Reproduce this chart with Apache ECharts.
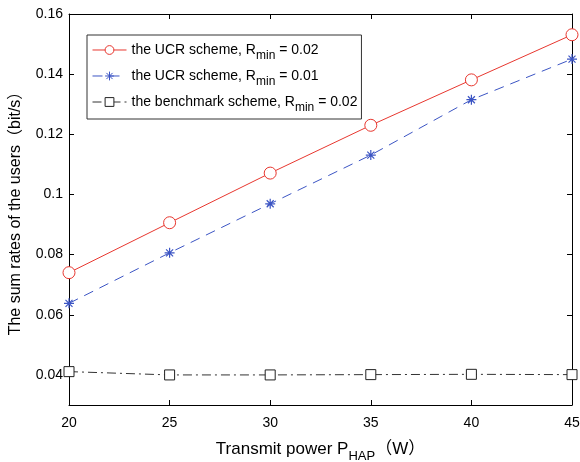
<!DOCTYPE html>
<html>
<head>
<meta charset="utf-8">
<script src="https://cdn.jsdelivr.net/npm/echarts@6/dist/echarts.min.js"></script>
<style>
  html, body { margin: 0; padding: 0; background: #fff; }
  #chart { width: 580px; height: 462px; }
</style>
</head>
<body>
<div id="chart"></div>
<script>
// transmit power (W)
var powers = [20, 25, 30, 35, 40, 45];
// sum rates (bit/s)
var ucrR002 = [0.0740, 0.0906, 0.1071, 0.1230, 0.1381, 0.1531];
var ucrR001 = [0.0638, 0.0806, 0.0969, 0.1131, 0.1315, 0.1450];
var benchR002 = [0.0411, 0.0400, 0.0400, 0.0401, 0.0402, 0.0401];

var yTicks = [0.04, 0.06, 0.08, 0.1, 0.12, 0.14, 0.16];
var seriesNames = [
  'the UCR scheme, Rmin = 0.02',
  'the UCR scheme, Rmin = 0.01',
  'the benchmark scheme, Rmin = 0.02'
];

var FONT = '"Liberation Sans", Arial, "Noto Sans CJK SC", sans-serif';
// matlab style '*' marker
var asterisk = 'path://M0,-10L0,10M-10,0L10,0M-7,-7L7,7M-7,7L7,-7';

function pairs(ys) {
  return powers.map(function (x, i) { return [x, ys[i]] })
}

var axisCommon = {
  axisLine: { show: true, onZero: false, lineStyle: { color: '#000', width: 1 } },
  axisTick: { show: true, inside: true, length: 5, lineStyle: { color: '#000' } },
  splitLine: { show: false }
};

var chart = echarts.init(document.getElementById('chart'));
chart.setOption({
  animation: false,
  backgroundColor: '#fff',
  textStyle: { fontFamily: FONT },
  grid: { left: 69, right: 8, top: 14, bottom: 57, containLabel: false, outerBoundsMode: 'none' },
  legend: {
    orient: 'vertical',
    left: 87,
    top: 35,
    padding: [8, 4, 5, 5],
    itemGap: 7,
    itemWidth: 34,
    itemHeight: 11,
    backgroundColor: '#fff',
    borderColor: '#333',
    borderWidth: 1,
    lineStyle: { width: 1 },
    itemStyle: { borderWidth: 1 },
    data: seriesNames,
    formatter: function (name) {
      return name.replace('Rmin', 'R{sub|min}')
    },
    textStyle: {
      fontFamily: FONT,
      fontSize: 14,
      color: '#000',
      rich: {
        sub: { fontFamily: FONT, fontSize: 12, color: '#000', padding: [12, 0, 0, 0] }
      }
    }
  },
  xAxis: [
    Object.assign({}, axisCommon, {
      type: 'value', min: 20, max: 45, interval: 5,
      name: 'Transmit power P{sub|HAP}（W）',
      nameLocation: 'middle',
      nameGap: 31,
      nameTextStyle: {
        fontFamily: FONT, fontSize: 17, color: '#000',
        rich: { sub: { fontFamily: FONT, fontSize: 13, color: '#000', padding: [14, 0, 0, 0] } }
      },
      axisLabel: { fontSize: 14, color: '#000', margin: 11, fontFamily: FONT }
    }),
    Object.assign({}, axisCommon, {
      type: 'value', min: 20, max: 45, interval: 5, position: 'top',
      axisLabel: { show: false }
    })
  ],
  yAxis: [
    Object.assign({}, axisCommon, {
      type: 'value', min: 0.03, max: 0.16,
      axisTick: { show: true, inside: true, length: 5, lineStyle: { color: '#000' }, customValues: yTicks },
      axisLabel: { fontSize: 14, color: '#000', margin: 6, fontFamily: FONT, customValues: yTicks },
      name: 'The sum rates of the users（bit/s）',
      nameLocation: 'middle',
      nameGap: 45,
      nameTextStyle: { fontFamily: FONT, fontSize: 16, color: '#000' }
    }),
    Object.assign({}, axisCommon, {
      type: 'value', min: 0.03, max: 0.16, position: 'right',
      axisTick: { show: true, inside: true, length: 5, lineStyle: { color: '#000' }, customValues: yTicks },
      axisLabel: { show: false }
    })
  ],
  series: [
    {
      name: seriesNames[0],
      type: 'line',
      data: pairs(ucrR002),
      symbol: 'circle',
      symbolSize: 12,
      lineStyle: { color: '#e8372f', width: 1 },
      itemStyle: { color: '#fff', borderColor: '#e8372f', borderWidth: 1 }
    },
    {
      name: seriesNames[1],
      type: 'line',
      data: pairs(ucrR001),
      symbol: asterisk,
      symbolSize: 10,
      lineStyle: { color: '#3c55c4', width: 1, type: [10, 7] },
      itemStyle: { color: 'rgba(0,0,0,0)', borderColor: '#3c55c4', borderWidth: 1.2 }
    },
    {
      name: seriesNames[2],
      type: 'line',
      data: pairs(benchR002),
      symbol: 'rect',
      symbolSize: 10,
      lineStyle: { color: '#333', width: 1, type: [9, 4, 2, 4] },
      itemStyle: { color: '#fff', borderColor: '#222', borderWidth: 1 }
    }
  ]
});
</script>
</body>
</html>
